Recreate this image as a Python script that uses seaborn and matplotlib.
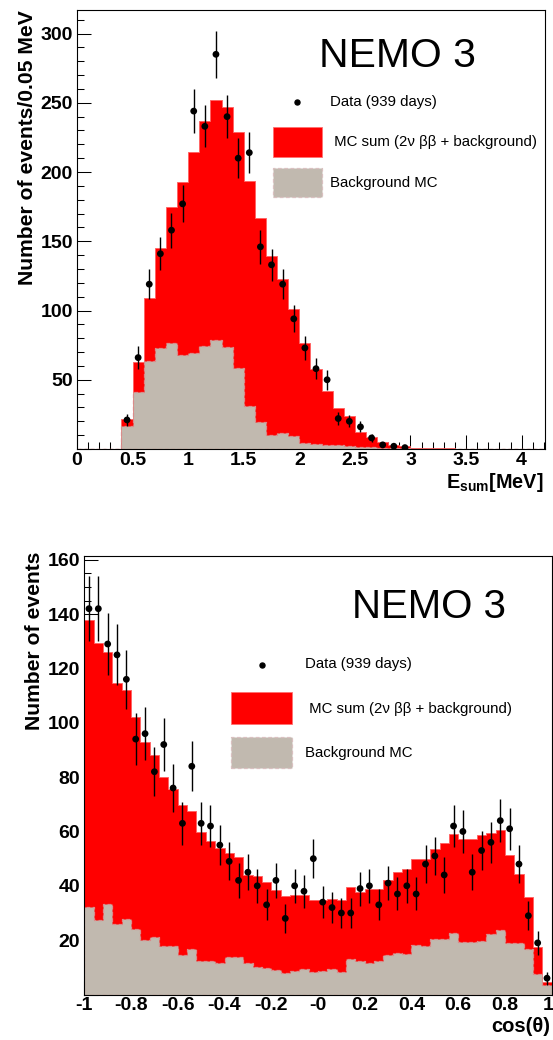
import numpy as np
import pandas as pd
import matplotlib
matplotlib.use("Agg")
import matplotlib.pyplot as plt
import matplotlib.transforms as mtransforms
import seaborn as sns
from matplotlib.ticker import MultipleLocator, FuncFormatter
from matplotlib.lines import Line2D
from matplotlib.patches import Patch
from matplotlib.legend_handler import HandlerLine2D

# ---------------- data: top panel (E_sum, 0.1 MeV bins from 0.0 to 4.2) -------------
esum_bin_start = 0.0
esum_bin_width = 0.1
esum_nbins = 42
esum_mc_sum = [0, 0, 0, 0, 21.6, 62.8, 108.7, 144.8, 174.4, 192.6,
               214.8, 236.9, 252.0, 247.0, 228.7, 193.6, 166.7, 139.2, 122.9, 101.2,
               76.7, 57.7, 41.8, 29.6, 24.0, 12.3, 8.7, 4.8, 3.1, 1.9,
               1.0, 0.7, 0.5, 0.4, 0.3, 0.3, 0.2, 0.2, 0.2, 0.1, 0.1, 0.1]
esum_background = [0, 0, 0, 0, 16.4, 40.9, 63.7, 72.9, 76.5, 68.0,
                   69.3, 74.6, 78.9, 73.6, 58.4, 31.0, 19.8, 10.3, 11.5, 9.3,
                   4.3, 3.8, 3.1, 2.6, 2.1, 1.6, 1.2, 0.9, 0.6, 0.4,
                   0.3, 0.2, 0.1, 0.1, 0.1, 0.1, 0.1, 0.1, 0.1, 0.1, 0.1, 0.1]
# data points for bins 0.4 ... 2.9 MeV
esum_data_first_bin = 4
esum_data = [21, 66, 119, 141, 158, 177, 244, 233, 285, 240,
             210, 214, 146, 133, 119, 94, 73, 58, 50, 22,
             20, 16, 8, 3, 2, 1]

# ---------------- data: bottom panel (cos theta, 50 bins from -1 to 1) ----------------
cos_bin_start = -1.0
cos_bin_width = 0.04
cos_nbins = 50
cos_mc_sum = [137.9, 129.3, 126.2, 114.8, 112.1, 102.0, 93.0, 88.2, 80.1, 75.6,
              69.7, 67.6, 59.7, 56.6, 54.0, 52.0, 50.7, 44.0, 43.5, 41.3,
              38.5, 36.4, 36.8, 36.5, 34.7, 34.7, 35.2, 34.9, 39.5, 37.7,
              39.0, 39.0, 42.3, 45.1, 46.3, 50.0, 50.0, 53.6, 55.8, 58.9,
              57.2, 57.4, 58.6, 59.4, 60.5, 51.5, 44.5, 35.9, 17.5, 4.5]
cos_background = [32.2, 27.3, 33.3, 26.0, 27.9, 24.1, 20.2, 21.1, 17.8, 17.8,
                  14.5, 16.8, 12.5, 12.3, 11.6, 13.8, 13.8, 11.6, 10.2, 9.6,
                  8.9, 8.0, 8.6, 9.3, 8.3, 8.8, 9.3, 8.1, 13.1, 12.3,
                  11.6, 12.3, 14.7, 15.3, 15.0, 18.3, 17.8, 20.6, 20.6, 22.7,
                  19.2, 19.2, 19.6, 22.4, 23.9, 19.0, 19.0, 16.8, 7.4, 3.4]
cos_data = [142, 142, 129, 125, 116, 94, 96, 82, 92, 76,
            63, 84, 63, 62, 55, 49, 42, 45, 40, 33,
            42, 28, 40, 38, 50, 34, 32, 30, 30, 39,
            40, 33, 41, 37, 40, 37, 48, 51, 44, 62,
            60, 45, 53, 56, 64, 61, 48, 29, 19, 6]

esum_xticks = [0, 0.5, 1, 1.5, 2, 2.5, 3, 3.5, 4]
esum_xticklabels = ["0", "0.5", "1", "1.5", "2", "2.5", "3", "3.5", "4"]
cos_xticks = [-1, -0.8, -0.6, -0.4, -0.2, 0, 0.2, 0.4, 0.6, 0.8, 1]
cos_xticklabels = ["-1", "-0.8", "-0.6", "-0.4", "-0.2", "-0", "0.2", "0.4", "0.6", "0.8", "1"]

legend_labels = ["Data (939 days)", " MC sum (2\u03bd \u03b2\u03b2 + background)", "Background MC"]

# ---------------- style ----------------
sns.set_theme(style="white")
plt.rcParams['font.family'] = ['Liberation Sans', 'DejaVu Sans']
plt.rcParams['font.weight'] = 'bold'
plt.rcParams['mathtext.fontset'] = 'custom'
plt.rcParams['mathtext.rm'] = 'Liberation Sans'
plt.rcParams['mathtext.bf'] = 'Liberation Sans:bold'
for k in ['axes.edgecolor', 'text.color', 'xtick.color', 'ytick.color', 'axes.labelcolor']:
    plt.rcParams[k] = 'black'

RED = '#ff0000'
GREY = '#c1b9af'
GREY_EDGE = '#d98c8c'

W, H = 553, 1040
fig = plt.figure(figsize=(W / 100, H / 100), dpi=100)


def px_rect(l, t, r, b):
    return [l / W, 1 - b / H, (r - l) / W, (b - t) / H]


def fx(x):
    return x / W


def fy(y):
    return 1 - y / H


ax1 = fig.add_axes(px_rect(77, 10, 545, 449))
ax2 = fig.add_axes(px_rect(84.3, 555.7, 551.7, 994.5))


def draw_panel(ax, start, width, nbins, mc, bkg, data, data_first):
    edges = start + width * np.arange(nbins + 1)
    centers = (edges[:-1] + edges[1:]) / 2
    df = pd.DataFrame({'center': centers, 'mc': mc, 'bkg': bkg})
    sns.histplot(data=df, x='center', weights='mc', bins=list(edges), element='step',
                 fill=True, color=RED, alpha=1, edgecolor='#ff6060', linewidth=0.6,
                 ax=ax, zorder=1)
    sns.histplot(data=df, x='center', weights='bkg', bins=list(edges), element='step',
                 fill=True, color=GREY, alpha=1, edgecolor=GREY_EDGE, linewidth=0.9,
                 linestyle=(0, (3, 2)), ax=ax, zorder=1.1)
    dc = centers[data_first:data_first + len(data)]
    dv = np.asarray(data, dtype=float)
    ax.errorbar(dc, dv, yerr=np.sqrt(dv), fmt='none', ecolor='black',
                elinewidth=1.0, capsize=0, zorder=3)
    sns.scatterplot(x=dc, y=dv, color='black', s=24, edgecolor='none',
                    ax=ax, zorder=4, legend=False)
    ax.set_xlabel('')
    ax.set_ylabel('')


draw_panel(ax1, esum_bin_start, esum_bin_width, esum_nbins,
           esum_mc_sum, esum_background, esum_data, esum_data_first_bin)
draw_panel(ax2, cos_bin_start, cos_bin_width, cos_nbins,
           cos_mc_sum, cos_background, cos_data, 0)

ax1.set_xlim(0, 4.21)
ax1.set_ylim(0, 317)
ax2.set_xlim(-1, 1)
ax2.set_ylim(0, 161.5)

hide0 = FuncFormatter(lambda v, p: '' if abs(v) < 1e-9 else '%g' % v)

ax1.set_xticks(esum_xticks)
ax1.set_xticklabels(esum_xticklabels)
ax1.xaxis.set_minor_locator(MultipleLocator(0.1))
ax1.yaxis.set_major_locator(MultipleLocator(50))
ax1.yaxis.set_minor_locator(MultipleLocator(10))
ax1.yaxis.set_major_formatter(hide0)

ax2.set_xticks(cos_xticks)
ax2.set_xticklabels(cos_xticklabels)
ax2.xaxis.set_minor_locator(MultipleLocator(0.04))
ax2.yaxis.set_major_locator(MultipleLocator(20))
ax2.yaxis.set_minor_locator(MultipleLocator(5))
ax2.yaxis.set_major_formatter(hide0)

for ax in (ax1, ax2):
    ax.set_axisbelow(True)
    ax.tick_params(which='both', direction='in', top=False, right=False,
                   bottom=True, left=True, width=0.75, color='black')
    ax.tick_params(which='major', length=10, labelsize=14)
    ax.tick_params(which='minor', length=5.3)
    ax.tick_params(axis='x', which='major', pad=2)
    ax.tick_params(axis='y', which='major', pad=3)
    for s in ax.spines.values():
        s.set_visible(True)
        s.set_color('black')
        s.set_linewidth(0.8)

# keep the last cos tick label ("1") inside the canvas, as in the reference
last_lbl = ax2.get_xticklabels()[-1]
last_lbl.set_transform(last_lbl.get_transform() +
                       mtransforms.ScaledTranslation(-4 / 100, 0, fig.dpi_scale_trans))

# axis titles
fig.text(fx(543), fy(488), r'$\mathbf{E_{sum}[MeV]}$', ha='right', va='baseline',
         fontsize=14.3)
fig.text(fx(550.5), fy(1031.5), 'cos(\u03b8)', ha='right', va='baseline',
         fontsize=14.5, fontweight='bold')
fig.text(fx(28), fy(10), 'Number of events/0.05 MeV', rotation=90,
         ha='center', va='top', fontsize=15.2, fontweight='bold')
fig.text(fx(35), fy(552), 'Number of events', rotation=90,
         ha='center', va='top', fontsize=15.2, fontweight='bold')

# NEMO 3 titles
fig.text(fx(319), fy(66.7), 'NEMO 3', ha='left', va='baseline',
         fontsize=29.4, fontweight='normal')
fig.text(fx(352.5), fy(618.3), 'NEMO 3', ha='left', va='baseline',
         fontsize=29.0, fontweight='normal')


class DotHandler(HandlerLine2D):
    """Legend handler for the data marker with a vertical shift (points)."""

    def __init__(self, dy=0.0, **kw):
        super().__init__(**kw)
        self.dy = dy

    def create_artists(self, legend, orig_handle, xdescent, ydescent, width,
                       height, fontsize, trans):
        arts = super().create_artists(legend, orig_handle, xdescent, ydescent,
                                      width, height, fontsize, trans)
        for a in arts:
            a.set_ydata(np.asarray(a.get_ydata()) + self.dy)
        return arts


def add_legend(ax, top_px, left_px, hlen, hheight, lspace, tpad, dot_dy):
    dot = Line2D([], [], marker='o', ls='none', color='black', markersize=3.6)
    red = Patch(facecolor=RED, edgecolor='#ff7070', linewidth=0.6)
    grey = Patch(facecolor=GREY, edgecolor='#d9c0c0', linewidth=0.9,
                 linestyle=(0, (3, 2)))
    return ax.legend([dot, red, grey], legend_labels, loc='upper left',
                     bbox_to_anchor=(fx(left_px), fy(top_px)),
                     bbox_transform=fig.transFigure,
                     frameon=False, borderpad=0, borderaxespad=0,
                     handlelength=hlen, handleheight=hheight, labelspacing=lspace,
                     handletextpad=tpad, prop={'size': 10.8, 'weight': 'normal'},
                     handler_map={dot: DotHandler(dy=dot_dy)})


add_legend(ax1, 86.9, 272.7, 3.27, 2.618, 0.75, 0.55, -3.8)
add_legend(ax2, 647.9, 231.0, 4.09, 2.874, 0.847, 0.85, -5.0)

fig.savefig('out.png', dpi=100)
